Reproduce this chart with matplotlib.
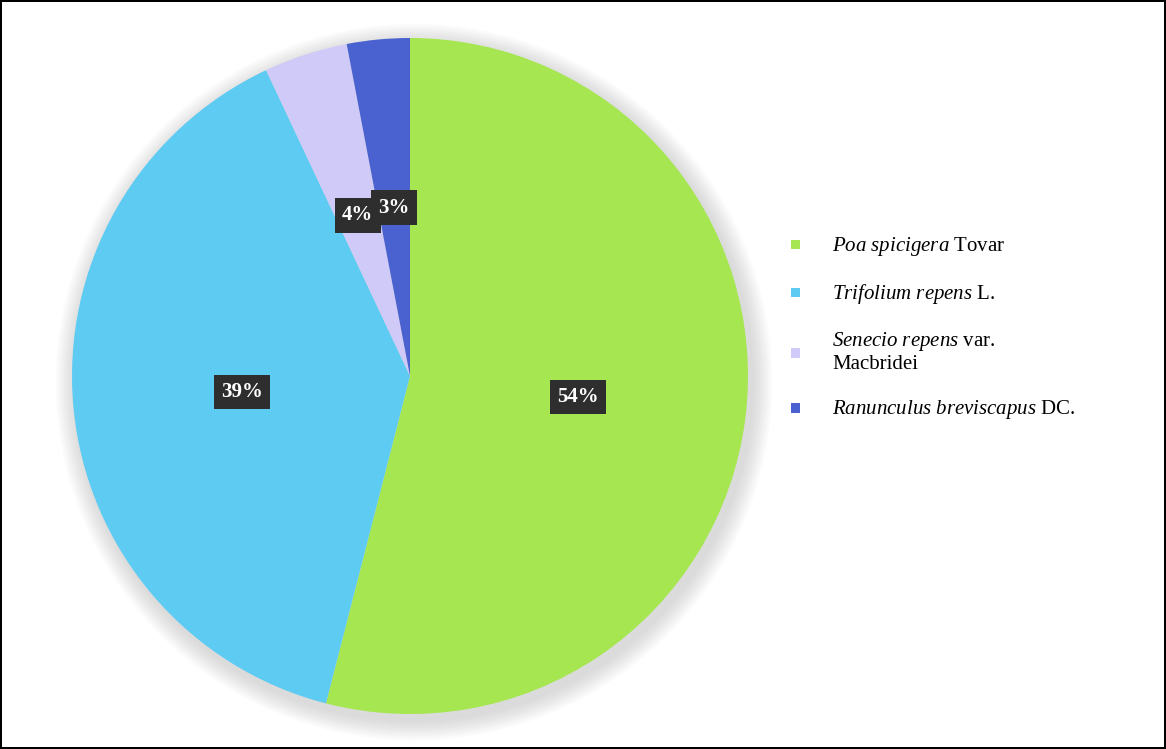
import matplotlib

matplotlib.use("Agg")
import matplotlib.pyplot as plt
from matplotlib.patches import Circle

species = [
    r"$\it{Poa\ spicigera}$ Tovar",
    r"$\it{Trifolium\ repens}$ L.",
    r"$\it{Senecio\ repens}$ var." + "\nMacbridei",
    r"$\it{Ranunculus\ breviscapus}$ DC.",
]
shares = [54, 39, 4, 3]
colors = ["#a6e650", "#5ecbf2", "#cfcaf7", "#4a62d0"]

plt.rcParams["font.family"] = ["Liberation Serif", "DejaVu Serif"]
plt.rcParams["mathtext.fontset"] = "custom"
plt.rcParams["mathtext.it"] = "Liberation Serif:italic"
plt.rcParams["mathtext.rm"] = "Liberation Serif"

fig = plt.figure(figsize=(11.66, 7.49), dpi=100)
fig.patch.set_edgecolor("black")
fig.patch.set_linewidth(1.5)

ax = fig.add_axes([72 / 1166, 35 / 749, 676 / 1166, 676 / 749])

# soft shadow behind the pie
for i in range(10):
    ax.add_patch(Circle((0.012, -0.018), 1.0 + 0.006 * (10 - i), color="#8a8a8a",
                        alpha=0.03, lw=0, zorder=0, clip_on=False))

wedges, _, autotexts = ax.pie(
    shares, colors=colors, startangle=90, counterclock=False,
    autopct="%d%%", pctdistance=0.5, radius=1.0,
    wedgeprops=dict(linewidth=0),
)
for t in autotexts:
    t.set_color("white")
    t.set_fontweight("bold")
    t.set_fontsize(15)
    t.set_bbox(dict(boxstyle="square,pad=0.35", fc="#2e2e2e", ec="none"))
ax.set_xlim(-1, 1)
ax.set_ylim(-1, 1)
ax.set_aspect("equal")
ax.axis("off")

leg = fig.legend(
    wedges, species, loc="upper left", bbox_to_anchor=(772 / 1166, 1 - 216 / 749),
    frameon=False, fontsize=15, handlelength=0.5, handleheight=0.5,
    handletextpad=1.5, labelspacing=1.15,
)
for h in leg.legend_handles:
    h.set_height(7)
    h.set_width(7)

fig.savefig("out.png", dpi=100)
